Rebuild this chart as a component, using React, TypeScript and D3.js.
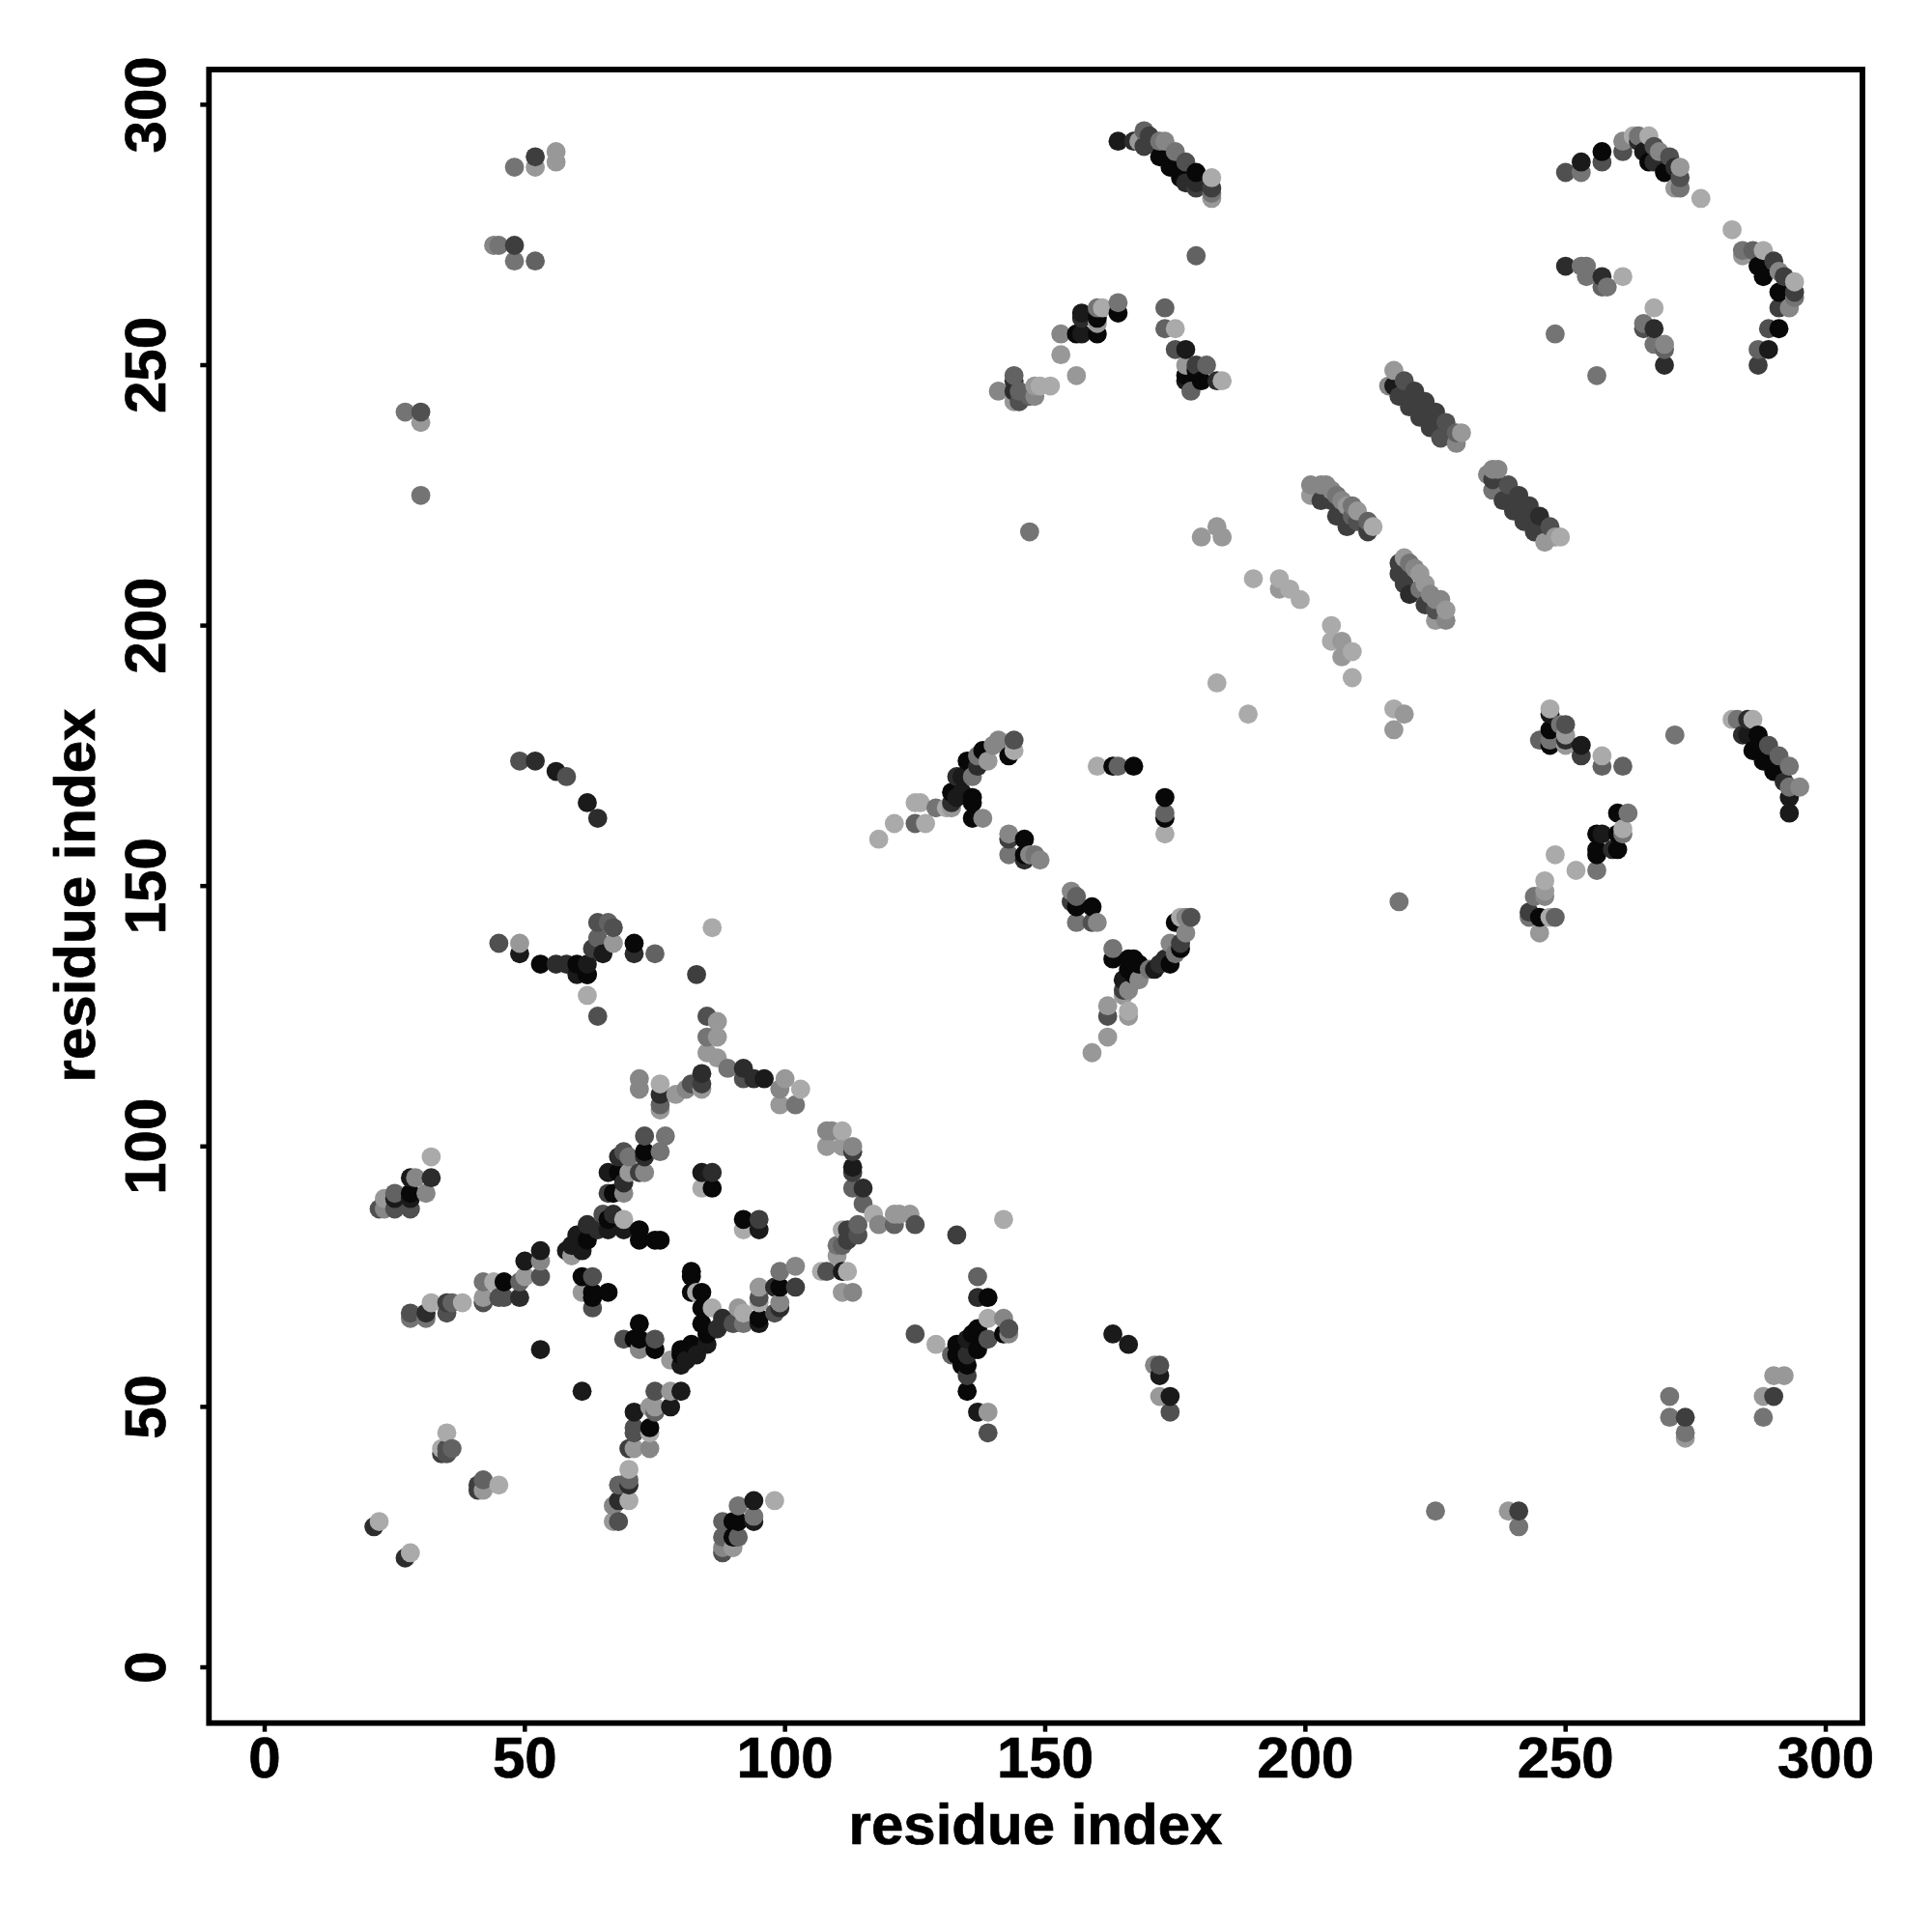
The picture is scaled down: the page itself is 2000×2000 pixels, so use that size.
import React from "react";
import * as d3 from "d3";

type P = [number, number, number];
// each contact: residue x, residue y, shade (0 black .. 9 light grey)
const coreCluster: P[] = [
[64,125,4],[62,129,9],[62,133,0],[83,133,3],[85,125,4],[87,124,8],[85,121,6],[87,121,8],[85,118,8],[87,117,8],[89,115,6],[92,115,2],[92,113,4],[96,113,1],[94,113,2],[100,113,8],[99,111,7],[103,111,9],[99,108,8],[102,108,6],
[84,114,2],[84,112,3],[82,112,4],[81,111,7],[79,110,8],[84,111,8],[76,112,9],[76,110,2],[76,108,5],[76,107,8],[72,113,7],[72,111,7],
[73,102,4],[77,102,6],[73,99,0],[76,99,6],[73,98,2],[70,98,6],[68,98,2],[69,99,4],[72,95,3],[73,95,7],[70,95,8],[66,95,1],[68,95,0],[69,93,2],[66,91,3],[69,91,7],[67,91,0],
[67,87,2],[65,87,4],[69,86,9],[66,86,0],[69,84,1],[72,84,0],[72,82,0],[75,82,0],[76,82,0],[66,84,1],[64,84,2],[62,85,2],[60,83,1],[62,82,0],[59,81,1],[61,80,1],[58,80,1],[59,79,8],
[84,95,1],[86,95,2],[84,92,9],[86,92,0],[92,86,0],[95,86,3],[92,84,9],[95,84,1],
[61,75,0],[63,75,4],[61,72,8],[63,72,0],[63,71,0],[66,72,0],[63,69,4],
[82,76,0],[82,75,0],[82,72,0],[83,72,9],[84,72,0],[84,69,0],[86,69,9],[88,67,2],[84,66,0],[87,65,2],[85,64,0],[85,62,1],[82,62,0],[80,61,0],[83,60,1],[80,58,1],[78,59,8],[80,60,0],[81,59,1],
[69,63,4],[71,63,0],[72,66,0],[72,63,0],[75,63,4],[72,61,7],[75,61,0],[53,61,1],[61,53,1],
[91,69,8],[92,68,9],[90,66,4],[92,66,6],[95,73,8],[95,71,4],[95,70,9],[95,67,0],[95,66,1],[99,76,6],[99,73,0],[102,73,3],[98,73,2],[102,77,7],[99,69,2],[98,68,4],[99,70,7],
[75,53,4],[78,53,8],[80,53,1],[78,50,1],[71,49,1],[74,50,8],[75,50,8],[75,49,5],[71,46,4],[74,46,0],[71,45,4],[74,45,9],[70,42,3],[71,42,8],[74,42,7],[70,38,9],[70,36,5],[68,35,5],[70,35,2],[68,32,2],[67,31,7],[70,32,9],[67,28,8],[68,28,4],
];
const leftCluster: P[] = [
[53,80,1],[53,78,7],[50,78,1],[53,75,4],[50,75,8],[49,74,5],[46,74,0],[44,74,9],[42,74,6],[42,71,8],[42,70,4],[45,71,4],[46,71,4],[49,71,2],[38,70,9],[35,70,3],[36,70,5],[32,70,9],[35,68,4],[31,68,2],[31,67,6],[28,68,4],[28,67,6],
[32,98,9],[32,94,2],[29,94,7],[28,94,1],[31,91,7],[28,91,0],[28,90,1],[25,91,5],[25,90,1],[23,90,8],[22,88,4],[23,88,7],[25,88,4],[28,88,4],
[35,45,9],[34,42,9],[35,42,4],[34,41,3],[36,42,5],[35,41,4],[42,36,5],[41,35,3],[42,34,8],[41,34,3],[45,35,9],[21,27,2],[22,28,9],[27,21,2],[28,22,9],
[98,32,9],[94,32,1],[91,31,6],[94,28,1],[94,29,6],[88,28,5],[90,28,0],[91,28,0],[88,25,5],[90,25,0],[91,25,5],[88,23,7],[90,23,8],[88,22,4],
];
const midCluster: P[] = [
[108,103,7],[109,103,7],[111,103,9],[108,100,8],[111,100,8],[113,100,7],[113,99,3],[113,96,1],[113,95,3],[113,92,5],[115,92,2],[115,89,5],[117,87,9],[121,87,8],[122,87,8],[124,87,8],[125,85,4],[121,85,5],[118,85,7],[114,85,5],[114,83,4],[111,84,9],[112,84,3],[112,82,3],[111,81,5],[110,81,6],[110,79,8],[107,76,9],[108,76,4],[111,76,1],[112,76,9],[111,72,8],[113,72,7],
[125,64,4],[133,83,3],[142,86,9],[137,75,5],[137,71,2],[139,71,0],[129,62,9],[139,67,9],[142,67,7],[143,65,4],[143,64,7],[142,64,0],[139,63,4],[136,64,0],[137,65,0],[135,63,1],[137,61,0],[133,62,0],[132,60,5],[133,60,0],[135,60,2],[134,58,0],[135,58,0],[135,56,3],[135,53,0],[137,49,1],[139,49,8],[139,45,4],
[163,64,1],[166,62,1],[171,58,7],[172,58,4],[172,56,1],[172,52,8],[174,52,1],[174,49,4],
];
const upperMid: P[] = [
[118,159,9],[121,162,9],[125,162,5],[127,162,9],[125,166,9],[126,166,9],[129,165,6],[131,165,9],[132,165,8],
[136,163,0],[138,163,7],[136,167,0],[136,166,0],[134,168,1],[132,168,0],[132,166,2],[133,167,1],[133,171,2],[134,171,1],[135,174,0],[136,171,6],[137,173,2],[138,176,0],[137,175,6],[139,174,8],[140,177,7],[141,178,7],[143,175,0],[144,178,4],[144,176,9],
[160,173,9],[163,173,0],[164,173,5],[167,173,0],[173,167,0],[173,164,5],[173,163,0],[173,160,9],
[143,160,7],[143,156,6],[143,159,3],[146,159,0],[146,156,0],[147,156,7],[148,156,6],[149,155,7],[146,155,2],
[155,149,7],[156,148,5],[155,147,3],[156,146,0],[159,146,0],[156,143,6],[159,143,4],[160,143,7],
[163,138,6],[163,136,0],[166,136,0],[167,136,0],[168,135,0],[166,134,0],[165,132,1],[167,133,0],[165,130,3],[166,130,7],[168,132,7],[171,134,1],[170,134,6],[172,135,2],[173,136,2],[174,135,0],[174,139,7],[176,138,0],[175,137,6],[176,139,3],[177,141,7],[175,143,0],[176,144,9],[177,144,7],[178,144,4],
[162,127,8],[162,125,4],[166,126,9],[166,125,8],[165,129,8],[162,121,8],[159,118,8],
[45,139,4],[49,137,1],[49,139,8],[53,135,0],[56,135,2],[58,135,2],[60,135,0],[60,133,1],[62,133,0],[62,135,1],[65,137,1],[64,143,4],[66,143,5],[67,142,4],[64,140,5],[67,139,8],[63,138,3],[71,139,0],[71,137,2],[75,137,5],[86,142,9],
[49,174,4],[52,174,2],[56,172,1],[58,171,4],[62,166,1],[64,163,2],
];
const topArc: P[] = [
[164,293,1],[167,293,2],[168,293,8],[169,295,5],[170,294,3],[169,292,3],[171,293,3],[172,290,0],[173,293,7],[172,293,6],[174,288,0],[175,291,6],[176,286,0],[177,289,4],[179,287,0],[179,285,2],[179,284,3],[182,286,9],[182,284,3],[182,283,6],[182,282,8],[177,285,2],[179,271,5],
[164,262,6],[164,260,0],[161,261,9],[160,261,6],[157,260,1],[157,259,2],[160,259,0],[160,258,8],[160,256,0],[157,256,1],[156,256,0],[153,256,7],[153,252,8],[156,248,8],
[173,261,5],[173,257,5],[175,257,9],[175,253,4],[177,253,1],[181,250,5],[179,250,3],[177,250,8],[180,247,0],[183,247,2],[184,247,9],[178,245,5],[177,248,0],[177,247,1],[179,249,0],
[144,248,5],[144,247,2],[141,245,7],[144,245,2],[144,243,8],[145,245,5],[145,243,4],[148,246,8],[149,246,9],[151,246,9],[148,244,7],[147,244,5],
];
const diagonals: P[] = [
[217,249,8],[216,246,7],[219,247,4],[218,244,3],[220,242,3],[222,240,3],[224,238,3],[226,236,4],[229,235,7],[221,245,3],[223,243,3],[225,241,3],[227,239,4],[230,237,8],[229,237,5],[217,246,1],
[236,230,7],[235,229,7],[237,230,7],[236,226,6],[239,227,4],[238,224,3],[240,222,3],[242,220,3],[244,218,3],[246,216,8],[241,225,3],[243,223,3],[245,221,2],[247,219,4],[248,217,8],[249,217,9],[236,228,3],
[201,227,7],[203,227,7],[204,227,7],[201,225,8],[205,226,7],[203,224,3],[205,224,3],[206,225,6],[207,224,7],[208,223,8],[206,221,3],[209,223,6],[210,222,8],[208,219,3],[210,220,4],[212,220,5],[213,219,9],[212,218,3],[209,221,5],
[219,213,8],[218,212,3],[220,212,6],[218,210,3],[221,211,7],[222,210,8],[219,208,3],[222,207,6],[223,208,8],[220,206,2],[224,206,7],[223,204,3],[225,205,7],[226,205,7],[225,203,4],[227,203,8],[225,201,8],[227,201,7],
[195,209,9],[197,207,9],[199,205,9],[205,200,9],[190,209,9],[195,207,8],[205,197,9],[207,197,8],[207,194,8],[209,195,9],[209,190,9],[183,189,9],[189,183,9],[217,184,9],[217,180,8],[219,183,8],[218,147,6],[180,217,8],[183,219,8],[184,217,8],[147,218,6],
];
const rightCluster: P[] = [
[247,184,9],[247,183,1],[245,178,5],[247,180,0],[247,178,6],[247,177,0],[249,181,6],[250,181,4],[250,179,8],[250,178,2],[250,177,8],[253,177,1],[253,175,3],[257,175,9],[257,173,5],[261,173,5],[271,179,6],
[260,164,0],[262,164,6],[256,160,0],[257,160,1],[260,160,0],[261,161,9],[261,160,6],[256,157,0],[256,156,0],[259,157,2],[260,157,0],[256,153,6],[252,153,9],[248,156,9],
[246,151,9],[246,149,8],[246,148,7],[244,148,6],[243,145,3],[243,144,6],[245,144,0],[248,144,5],[247,144,9],[245,141,8],
[282,182,9],[283,182,6],[285,182,2],[286,182,9],[284,179,2],[285,179,1],[287,179,0],[286,176,0],[289,177,4],[288,174,0],[291,175,5],[290,172,0],[293,173,6],[292,170,2],[293,169,6],[295,169,7],[293,167,1],[293,164,1],
[250,287,4],[253,287,6],[253,289,1],[257,291,0],[257,289,4],[261,291,4],[261,293,7],[263,294,9],[264,294,6],[266,294,9],[264,293,2],[265,291,1],[266,289,0],[267,292,4],[268,291,7],[270,290,4],[269,287,0],[271,288,2],[272,288,8],[272,286,4],[271,284,8],[272,284,6],[267,289,2],
[276,282,9],[282,276,9],[284,272,6],[284,271,8],[286,272,5],[288,272,9],[287,269,0],[290,270,3],[288,267,0],[291,264,0],[291,268,7],[292,267,3],[294,266,9],[294,264,3],[294,263,6],[293,261,7],[291,261,3],[289,257,4],[291,257,0],[287,253,5],[289,253,1],[287,250,3],
[250,269,2],[253,269,6],[254,269,6],[254,267,6],[257,267,2],[257,265,5],[258,265,6],[261,267,9],[248,256,6],[256,248,6],[267,261,9],[265,258,6],[265,257,4],[267,257,2],[267,254,6],[269,254,7],[269,253,5],[269,250,2],
];
const scattered: P[] = [
[27,241,6],[30,241,4],[30,239,8],[30,225,6],[48,288,6],[52,290,3],[56,291,8],[52,288,8],[56,289,8],[44,273,7],[45,273,6],[48,273,3],[48,270,6],[52,270,5],
[225,30,6],[239,30,8],[241,30,3],[241,27,6],[270,52,6],[270,48,6],[273,48,3],[273,45,6],[273,44,8],[288,52,8],[288,48,6],[290,52,3],[290,56,8],[292,56,8],
];
const xTicks = [0, 50, 100, 150, 200, 250, 300];
const yTicks = [0, 50, 100, 150, 200, 250, 300];

const frame = { left: 216.3, right: 1928, top: 72, bottom: 1783.7 };
const x = d3.scaleLinear().domain([-10.71, 307.05]).range([frame.left, frame.right]);
const y = d3.scaleLinear().domain([-10.7, 306.75]).range([frame.bottom, frame.top]);
const shade = d3.scaleLinear().domain([0, 9]).range([8, 170]);
const points: P[] = [...coreCluster, ...leftCluster, ...midCluster, ...upperMid, ...topArc, ...diagonals, ...rightCluster, ...scattered]
  .slice()
  .sort((a, b) => d3.ascending(a[0], b[0]) || d3.ascending(a[1], b[1]));
const font = "'Liberation Sans', Arial, sans-serif";

export default function App() {
  return (
    <svg width={2000} height={2000} style={{ position: "absolute", left: 0, top: 0, background: "#fff" }} fontFamily={font} fontWeight="bold" fontSize={60} stroke="none">
      {points.map((p, i) => {
        const g = Math.round(shade(p[2]));
        return <circle key={i} cx={x(p[0])} cy={y(p[1])} r={9.9} fill={`rgb(${g},${g},${g})`} />;
      })}
      <rect x={frame.left} y={frame.top} width={frame.right - frame.left} height={frame.bottom - frame.top} fill="none" stroke="#000" strokeWidth={5.8} />
      {xTicks.map((t) => (
        <g key={t}>
          <line x1={x(t)} x2={x(t)} y1={frame.bottom} y2={frame.bottom + 9} stroke="#000" strokeWidth={4.5} />
          <text x={x(t)} y={1840} textAnchor="middle" stroke="#000" strokeWidth={0.7}>{t}</text>
        </g>
      ))}
      {yTicks.map((t) => (
        <g key={t}>
          <line x1={frame.left - 9} x2={frame.left} y1={y(t)} y2={y(t)} stroke="#000" strokeWidth={4.5} />
          <text transform={`translate(171,${y(t)}) rotate(-90)`} textAnchor="middle" stroke="#000" strokeWidth={0.7}>{t}</text>
        </g>
      ))}
      <text x={1072} y={1909} textAnchor="middle" stroke="#000" strokeWidth={0.7}>residue index</text>
      <text transform="translate(98,927) rotate(-90)" textAnchor="middle" stroke="#000" strokeWidth={0.7}>residue index</text>
    </svg>
  );
}
